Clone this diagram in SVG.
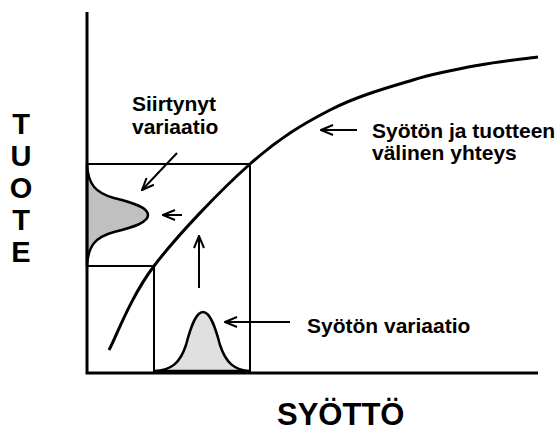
<svg xmlns="http://www.w3.org/2000/svg" width="560" height="437" viewBox="0 0 560 437">
<defs>
<style>
.t{font-family:"Liberation Sans",Arial,sans-serif;font-weight:bold;fill:#000}
.lbl{font-size:21px}
.ln{stroke:#000;fill:none}
.ar{stroke:#000;stroke-width:2;fill:none;marker-end:url(#ah)}
</style>
<marker id="ah" viewBox="0 0 14 12" refX="13" refY="6" markerWidth="14" markerHeight="12" markerUnits="userSpaceOnUse" orient="auto">
<path d="M1,1 L13,6 L1,11" fill="none" stroke="#000" stroke-width="2"/>
</marker>
</defs>
<rect width="560" height="437" fill="#fff"/>
<g id="frame">
<path class="ln" stroke-width="2" d="M87,164 H250 V373 M87,266 H154 V373"/>
</g>
<g id="input-dist">
<path d="M154,371 C172,370 180,363 186,345 C191,326 196,312 203,312 C210,312 215,326 220,345 C226,363 234,370 250,371 Z" fill="#e0e0e0" stroke="#000" stroke-width="2.5"/>
</g>
<g id="output-dist">
<path d="M87,164 C88,185 96,193 114,198 C135,203 148,208 148,215 C148,222 135,227 114,232 C96,237 88,245 87,266 Z" fill="#c0c0c0" stroke="#000" stroke-width="2.5"/>
</g>
<g id="axes">
<path class="ln" stroke-width="3" d="M87,12 V373 H538"/>
</g>
<g id="curve">
<path class="ln" stroke-width="3" d="M109,350 C116.5,336 130.5,297 154,266 C177.5,235 220.7,190 250,164 C279.3,138 302.8,124 330,110 C357.2,96 388,87.5 413,80 C438,72.5 459.2,68.8 480,65 C500.8,61.2 528.3,58.3 538,57"/>
</g>
<g id="connectors">
<path class="ar" d="M177,153 L142,190"/>
<path class="ar" d="M182,215 L163,215"/>
<path class="ar" d="M199,288 L199,236"/>
<path class="ar" d="M290,322 L225,322"/>
<path class="ar" d="M357,130 L321,130"/>
</g>
<g id="label-shifted">
<text class="t lbl" x="132" y="111">Siirtynyt</text>
<text class="t lbl" x="132" y="134">variaatio</text>
</g>
<g id="label-relation">
<text class="t lbl" x="372" y="138">Syötön ja tuotteen</text>
<text class="t lbl" x="372" y="160">välinen yhteys</text>
</g>
<g id="label-input">
<text class="t lbl" x="307" y="333">Syötön variaatio</text>
</g>
<g id="axis-x">
<text class="t" x="277" y="425" font-size="31">SYÖTTÖ</text>
</g>
<g id="axis-y">
<text class="t" x="21" y="134" font-size="29" text-anchor="middle">T</text>
<text class="t" x="21" y="166" font-size="29" text-anchor="middle">U</text>
<text class="t" x="21" y="198" font-size="29" text-anchor="middle">O</text>
<text class="t" x="21" y="230" font-size="29" text-anchor="middle">T</text>
<text class="t" x="21" y="262" font-size="29" text-anchor="middle">E</text>
</g>
</svg>
